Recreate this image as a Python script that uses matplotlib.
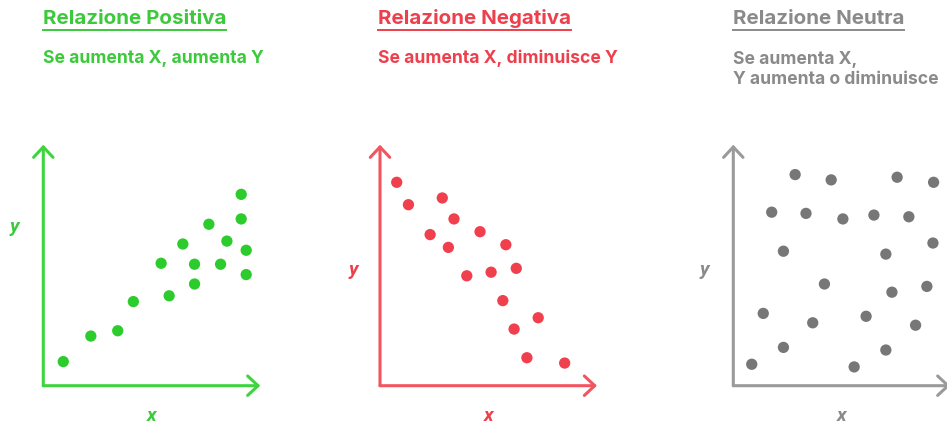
import matplotlib
matplotlib.use("Agg")
import matplotlib.pyplot as plt

# --- data -------------------------------------------------------------
pos_x = [0.92, 2.19, 3.43, 4.15, 5.43, 5.80, 6.43, 6.97, 6.97, 7.63, 8.17, 8.46, 9.12, 9.12, 9.35, 9.35]
pos_y = [1.00, 2.06, 2.28, 3.49, 5.08, 3.73, 5.88, 5.04, 4.22, 6.70, 5.04, 6.00, 7.94, 6.92, 5.62, 4.61]

neg_x = [0.77, 1.31, 2.87, 3.41, 2.31, 3.15, 4.61, 5.80, 4.00, 5.12, 6.28, 5.66, 7.29, 6.18, 6.77, 8.51]
neg_y = [8.44, 7.51, 7.79, 6.92, 6.27, 5.74, 6.39, 5.85, 4.56, 4.71, 4.87, 3.53, 2.82, 2.35, 1.16, 0.94]

neu_x = [2.85, 4.51, 7.55, 9.23, 1.77, 3.35, 5.05, 6.48, 8.09, 2.31, 7.03, 9.20,
         4.20, 7.31, 8.92, 1.38, 3.66, 6.12, 8.40, 2.31, 7.03, 0.85, 5.57]
neu_y = [8.76, 8.54, 8.65, 8.44, 7.20, 7.15, 6.92, 7.08, 7.01, 5.58, 5.46, 5.92,
         4.22, 3.88, 4.12, 3.00, 2.61, 2.88, 2.51, 1.59, 1.48, 0.89, 0.78]

titles = ["Relazione Positiva", "Relazione Negativa", "Relazione Neutra"]
subtitles = ["Se aumenta X, aumenta Y", "Se aumenta X, diminuisce Y",
             "Se aumenta X,\nY aumenta o diminuisce"]

# --- styling ----------------------------------------------------------
W, H = 947, 427
DPI = 100
fig = plt.figure(figsize=(W / DPI, H / DPI), dpi=DPI)
fig.patch.set_facecolor("white")

TITLE_FONT = ["Inter", "DejaVu Sans"]

panels = [
    dict(x=pos_x, y=pos_y, dot="#2ccc2c", line="#3fd43f", text="#3cc93c",
         origin=(43.3, 386.7), title_x=43, ylab_x=14, ylab_y=226.7),
    dict(x=neg_x, y=neg_y, dot="#f0404e", line="#f25560", text="#ee3f4c",
         origin=(380.0, 386.7), title_x=378, ylab_x=353, ylab_y=270),
    dict(x=neu_x, y=neu_y, dot="#777777", line="#9a9a9a", text="#8a8a8a",
         origin=(733.3, 386.7), title_x=733, ylab_x=704, ylab_y=270),
]

AX_W, AX_H = 217, 241   # axis box in pixels (origin to arrow tips)


def px(xp, yp):
    """pixel position (from top-left) -> figure fraction"""
    return xp / W, 1 - yp / H


fig.canvas.draw()
renderer = fig.canvas.get_renderer()

for i, p in enumerate(panels):
    ox, oy = p["origin"]
    left, bottom = px(ox, oy)
    ax = fig.add_axes([left, bottom, AX_W / W, AX_H / H])
    ax.set_xlim(0, 10)
    ax.set_ylim(0, 10)
    ax.axis("off")

    ax.scatter(p["x"], p["y"], s=66, color=p["dot"], edgecolors="none",
               zorder=3, clip_on=False)

    # axes with open arrowheads
    arrow = dict(arrowstyle="->,head_length=0.75,head_width=0.7",
                 color=p["line"], lw=2.2, shrinkA=0, shrinkB=0,
                 capstyle="round", joinstyle="round")
    ax.annotate("", xy=(0, 1), xytext=(0, 0), xycoords="axes fraction",
                textcoords="axes fraction", arrowprops=arrow,
                annotation_clip=False)
    ax.annotate("", xy=(1, 0), xytext=(0, 0), xycoords="axes fraction",
                textcoords="axes fraction", arrowprops=arrow,
                annotation_clip=False)

    # axis letters
    lab = dict(color=p["text"], fontsize=14, fontweight="bold",
               fontstyle="italic", family=["Roboto", "DejaVu Sans"],
               ha="center", va="center")
    fig.text(*px(p["ylab_x"], p["ylab_y"]), "y", **lab)
    fig.text(*px(ox + 108.5, 416.5), "x", **lab)

    # heading with underline
    t = fig.text(*px(p["title_x"], 18.5), titles[i], color=p["text"],
                 fontsize=14.8, fontweight="bold", family=TITLE_FONT,
                 ha="left", va="center")
    bb = t.get_window_extent(renderer=renderer)
    ux0, ux1 = bb.x0 / W, bb.x1 / W
    uy = 1 - 30.5 / H
    fig.add_artist(plt.Line2D([ux0, ux1], [uy, uy], color=p["text"],
                              lw=1.4, transform=fig.transFigure))

    fig.text(*px(p["title_x"], 58.5 if i < 2 else 69.5), subtitles[i],
             color=p["text"], fontsize=12.6, fontweight="bold",
             family=TITLE_FONT, ha="left", va="center", linespacing=1.25)

fig.savefig("out.png", dpi=DPI, facecolor="white")
